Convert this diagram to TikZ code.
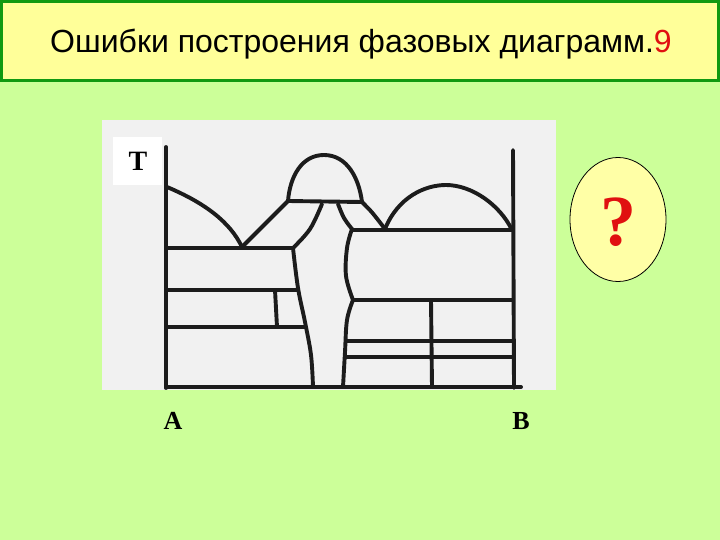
\documentclass[tikz,border=0pt]{standalone}
\usepackage{fontspec}
\setmainfont{Liberation Serif}
\newfontfamily\titlefont{Liberation Sans}
\definecolor{bggreen}{HTML}{CCFF99}
\definecolor{titleyellow}{HTML}{FFFF99}
\definecolor{titleborder}{HTML}{119911}
\definecolor{paper}{HTML}{F1F1F1}
\definecolor{ink}{HTML}{1C1C1C}
\definecolor{ovalfill}{HTML}{FFFFA6}
\definecolor{qred}{HTML}{E01010}
\tikzset{
  ln/.style={line width=3.9pt, draw=ink, line cap=round, line join=round},
  lbl/.style={font=\fontsize{26}{26}\selectfont\bfseries, text=black, inner sep=0pt},
}
\begin{document}
\begin{tikzpicture}[x=1pt,y=-1pt]
\useasboundingbox (0,0) rectangle (720,540);
\fill[bggreen] (0,0) rectangle (720,540);
% title
\draw[fill=titleyellow, draw=titleborder, line width=3pt] (1.5,1.5) rectangle (718.5,81);
\node[inner sep=0pt, font=\titlefont\fontsize{32}{32}\selectfont] (title) at (361,44) {Ошибки построения фазовых диаграмм.\textcolor{qred}{9}};
% picture area
\fill[paper] (102,120) rectangle (556,390);
\fill[white] (113,137) rectangle (162,185);
\node[lbl, font=\fontsize{28}{28}\selectfont\bfseries] (T) at (138,161) {T};
% axes
\draw[ln] (166,147) -- (166,388);
\draw[ln] (513,150) -- (514,388);
\draw[ln] (166,387) -- (521,387);
% left liquidus and V
\draw[ln] (167,187) .. controls (205,203) and (230,222) .. (242,247);
\draw[ln] (242,247) -- (288,201);
% middle dome
\draw[ln] (288,201) .. controls (290,176) and (302,155) .. (324,155) .. controls (347,155) and (359,178) .. (362,202);
\draw[ln] (288,201) -- (362,202);
\draw[ln] (362,202) .. controls (372,212) .. (385,229);
% right dome
\draw[ln] (385,229) .. controls (398,197) and (425,185) .. (446,185) .. controls (472,185) and (500,205) .. (512,230);
% middle column boundaries
\draw[ln] plot[smooth, tension=0.6] coordinates {(322,204) (310,229) (293,248)};
\draw[ln] plot[smooth, tension=0.6] coordinates {(293,248) (298,288) (305,322) (311,355) (313,387)};
\draw[ln] plot[smooth, tension=0.6] coordinates {(338,204) (344,218) (352,229)};
\draw[ln] plot[smooth, tension=0.6] coordinates {(352,229) (347,248) (346,276) (353,300)};
\draw[ln] plot[smooth, tension=0.6] coordinates {(353,300) (347,320) (345,352) (343,387)};
% left horizontals
\draw[ln] (166,248) -- (293,248);
\draw[ln] (166,290) -- (298,290);
\draw[ln] (166,327) -- (305,327);
\draw[ln] (275,290) -- (277,327);
% right horizontals
\draw[ln] (352,230) -- (513,230);
\draw[ln] (353,300) -- (513,300);
\draw[ln] (347,341) -- (513,341);
\draw[ln] (346,357) -- (513,357);
\draw[ln] (431,300) -- (432,387);
% labels
\node[lbl] (A) at (173,421) {A};
\node[lbl] (B) at (521,421) {B};
% question oval
\draw[fill=ovalfill, draw=black, line width=0.8pt] (618,219.5) ellipse [x radius=48, y radius=62];
\node[inner sep=0pt, text=qred, font=\fontsize{72}{72}\selectfont\bfseries] (q) at (618,222) {?};
\end{tikzpicture}
\end{document}
